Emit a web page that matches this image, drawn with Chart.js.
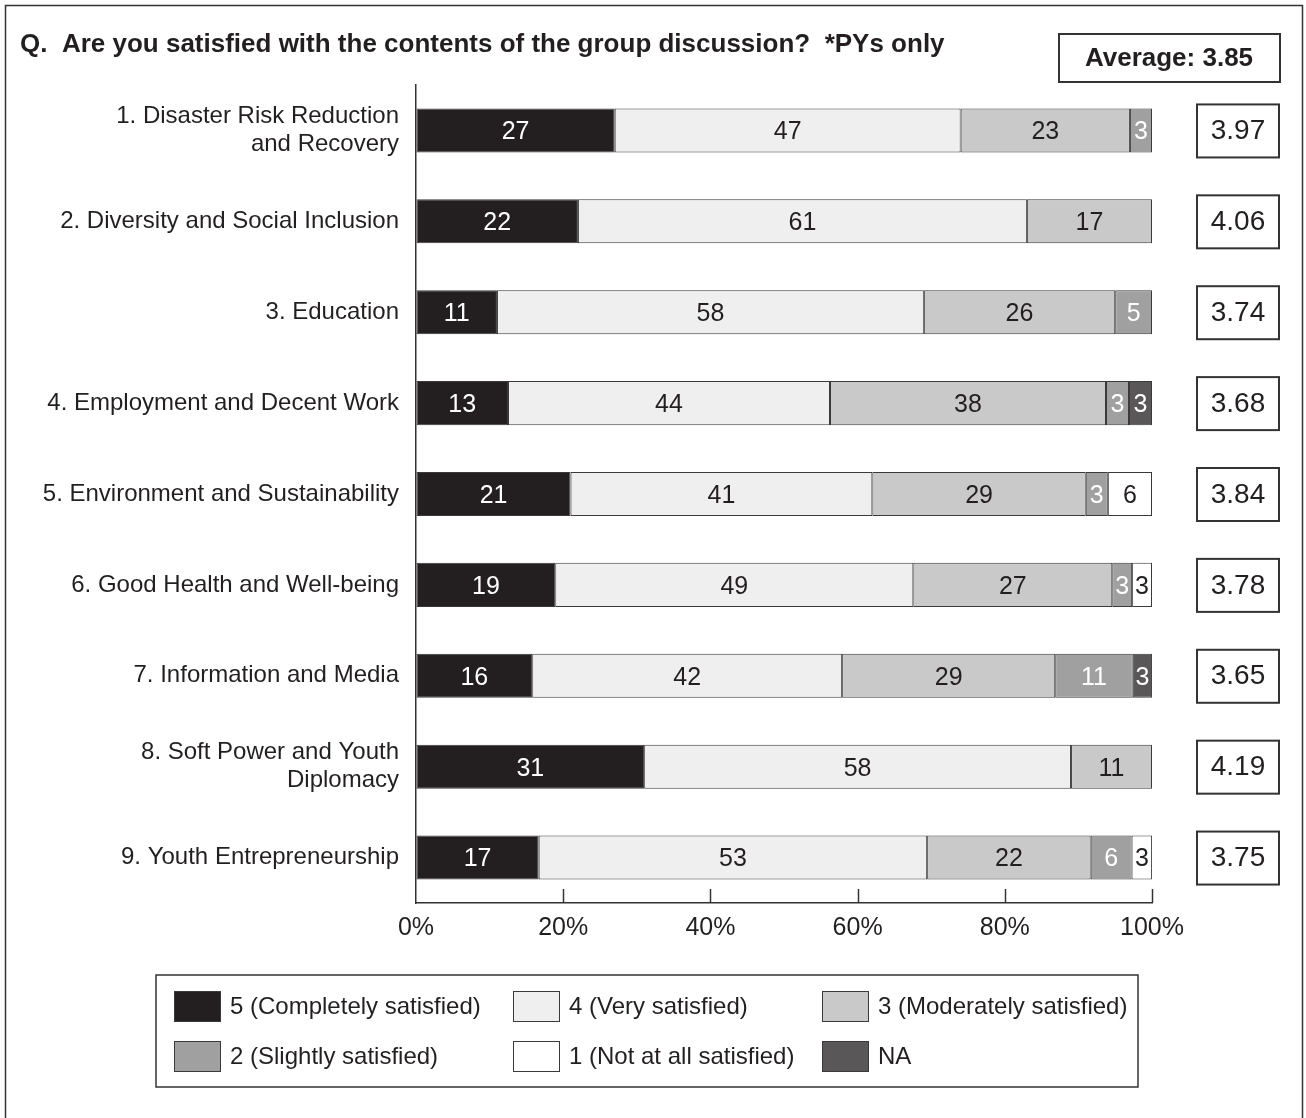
<!DOCTYPE html>
<html>
<head>
<meta charset="utf-8">
<script src="https://cdn.jsdelivr.net/npm/chart.js@4/dist/chart.umd.min.js"></script>
<style>
  html, body { margin: 0; padding: 0; background: #fff; }
  #chart { display: block; }
</style>
</head>
<body>
<canvas id="chart" width="1306" height="1118"></canvas>
<script>
const categories = [
  ['1. Disaster Risk Reduction', 'and Recovery'],
  '2. Diversity and Social Inclusion',
  '3. Education',
  '4. Employment and Decent Work',
  '5. Environment and Sustainability',
  '6. Good Health and Well-being',
  '7. Information and Media',
  ['8. Soft Power and Youth', 'Diplomacy'],
  '9. Youth Entrepreneurship'
];

// shares in %, labels in the picture are these rounded
const completely = [27, 22, 11, 12.5, 21, 18.92, 15.79, 31, 16.67];
const very = [47, 61, 58, 43.75, 41, 48.65, 42.11, 58, 52.78];
const moderately = [23, 17, 26, 37.5, 29, 27.03, 28.95, 11, 22.22];
const slightly = [3, 0, 5, 3.125, 3, 2.7, 10.53, 0, 5.56];
const notAtAll = [0, 0, 0, 0, 6, 2.7, 0, 0, 2.78];
const na = [0, 0, 0, 3.125, 0, 0, 2.63, 0, 0];

const averages = ['3.97', '4.06', '3.74', '3.68', '3.84', '3.78', '3.65', '4.19', '3.75'];
const overallAverage = '3.85';
const xTicks = [0, 20, 40, 60, 80, 100];

const titleText = 'Q.  Are you satisfied with the contents of the group discussion?  *PYs only';
const FONT = '"Liberation Sans", Arial, Helvetica, sans-serif';
const INK = '#231f20';

const series = [
  { label: '5 (Completely satisfied)', data: completely, color: '#231f20', text: '#ffffff' },
  { label: '4 (Very satisfied)', data: very, color: '#efefef', text: INK },
  { label: '3 (Moderately satisfied)', data: moderately, color: '#c8c9c8', text: INK },
  { label: '2 (Slightly satisfied)', data: slightly, color: '#a0a0a0', text: '#ffffff' },
  { label: '1 (Not at all satisfied)', data: notAtAll, color: '#ffffff', text: INK },
  { label: 'NA', data: na, color: '#595757', text: '#ffffff' }
];

const datasets = series.map(s => ({
  label: s.label,
  data: s.data,
  backgroundColor: s.color,
  borderColor: '#3a3a3a',
  borderWidth: 1,
  borderSkipped: false,
  textColor: s.text
}));

// frame, title, average header
const decorPlugin = {
  id: 'decor',
  beforeDraw(chart) {
    const ctx = chart.ctx;
    ctx.save();
    ctx.fillStyle = '#fff';
    ctx.fillRect(0, 0, chart.width, chart.height);
    ctx.strokeStyle = '#333';
    ctx.lineWidth = 1.5;
    ctx.strokeRect(5.5, 5.5, 1297, 1200);

    ctx.fillStyle = INK;
    ctx.font = 'bold 26px ' + FONT;
    ctx.textAlign = 'left';
    ctx.textBaseline = 'middle';
    ctx.fillText(titleText, 20, 45);

    ctx.lineWidth = 2;
    ctx.strokeRect(1059, 34, 221, 48);
    ctx.textAlign = 'center';
    ctx.fillText('Average: ' + overallAverage, 1169, 59);
    ctx.restore();
  },
  afterDraw(chart) {
    const ctx = chart.ctx;
    const x = chart.scales.x, y = chart.scales.y;
    ctx.save();
    // inward ticks on the x axis
    ctx.strokeStyle = '#333';
    ctx.lineWidth = 1.5;
    xTicks.slice(1).forEach(v => {
      const px = Math.round(x.getPixelForValue(v)) + 0.5;
      ctx.beginPath();
      ctx.moveTo(px, y.bottom);
      ctx.lineTo(px, y.bottom - 14);
      ctx.stroke();
    });

    // average boxes per row
    ctx.font = '28px ' + FONT;
    ctx.fillStyle = INK;
    ctx.textAlign = 'center';
    ctx.textBaseline = 'middle';
    ctx.lineWidth = 2;
    averages.forEach((a, i) => {
      const cy = y.getPixelForValue(i);
      ctx.strokeRect(1197, cy - 26, 82, 53);
      ctx.fillText(a, 1238, cy + 1);
    });

    // legend
    ctx.strokeStyle = '#333';
    ctx.lineWidth = 1.5;
    ctx.strokeRect(156, 975, 982, 112);
    const cols = [174, 513, 822];
    const rows = [991, 1041];
    ctx.font = '24px ' + FONT;
    ctx.textAlign = 'left';
    chart.data.datasets.forEach((ds, i) => {
      const sx = cols[i % 3], sy = rows[Math.floor(i / 3)];
      ctx.fillStyle = ds.backgroundColor;
      ctx.fillRect(sx, sy, 47, 31);
      ctx.lineWidth = 1;
      ctx.strokeStyle = '#3a3a3a';
      ctx.strokeRect(sx + 0.5, sy + 0.5, 46, 30);
      ctx.fillStyle = INK;
      ctx.fillText(ds.label, sx + 56, sy + 16);
    });
    ctx.restore();
  }
};

// value labels inside segments
const segmentLabels = {
  id: 'segmentLabels',
  afterDatasetsDraw(chart) {
    const ctx = chart.ctx;
    ctx.save();
    ctx.font = '25px ' + FONT;
    ctx.textAlign = 'center';
    ctx.textBaseline = 'middle';
    chart.data.datasets.forEach((ds, i) => {
      const meta = chart.getDatasetMeta(i);
      meta.data.forEach((bar, j) => {
        const v = ds.data[j];
        if (!v) return;
        const p = bar.getProps(['x', 'y', 'base'], true);
        ctx.fillStyle = ds.textColor;
        ctx.fillText(String(Math.round(v)), (p.x + p.base) / 2, p.y + 2);
      });
    });
    ctx.restore();
  }
};

new Chart(document.getElementById('chart'), {
  type: 'bar',
  data: { labels: categories, datasets },
  options: {
    indexAxis: 'y',
    responsive: false,
    animation: false,
    layout: { padding: { left: 0, right: 154, top: 85, bottom: 155 } },
    datasets: { bar: { barPercentage: 1, categoryPercentage: 0.485 } },
    plugins: {
      legend: { display: false },
      tooltip: { enabled: false }
    },
    scales: {
      x: {
        stacked: true,
        min: 0,
        max: 100,
        afterBuildTicks(scale) { scale.ticks = xTicks.map(v => ({ value: v })); },
        afterFit(scale) { scale.height = 60; },
        grid: { drawOnChartArea: false, drawTicks: false },
        border: { display: true, color: '#333', width: 1.5 },
        ticks: {
          padding: 10,
          color: INK,
          font: { family: FONT, size: 25 },
          callback: v => v + '%'
        }
      },
      y: {
        stacked: true,
        afterFit(scale) { scale.width = 416; },
        grid: { display: false, drawTicks: false },
        border: { display: true, color: '#333', width: 1.5 },
        ticks: {
          padding: 17,
          color: INK,
          font: { family: FONT, size: 24, lineHeight: 1.15 }
        }
      }
    }
  },
  plugins: [decorPlugin, segmentLabels]
});
</script>
</body>
</html>
